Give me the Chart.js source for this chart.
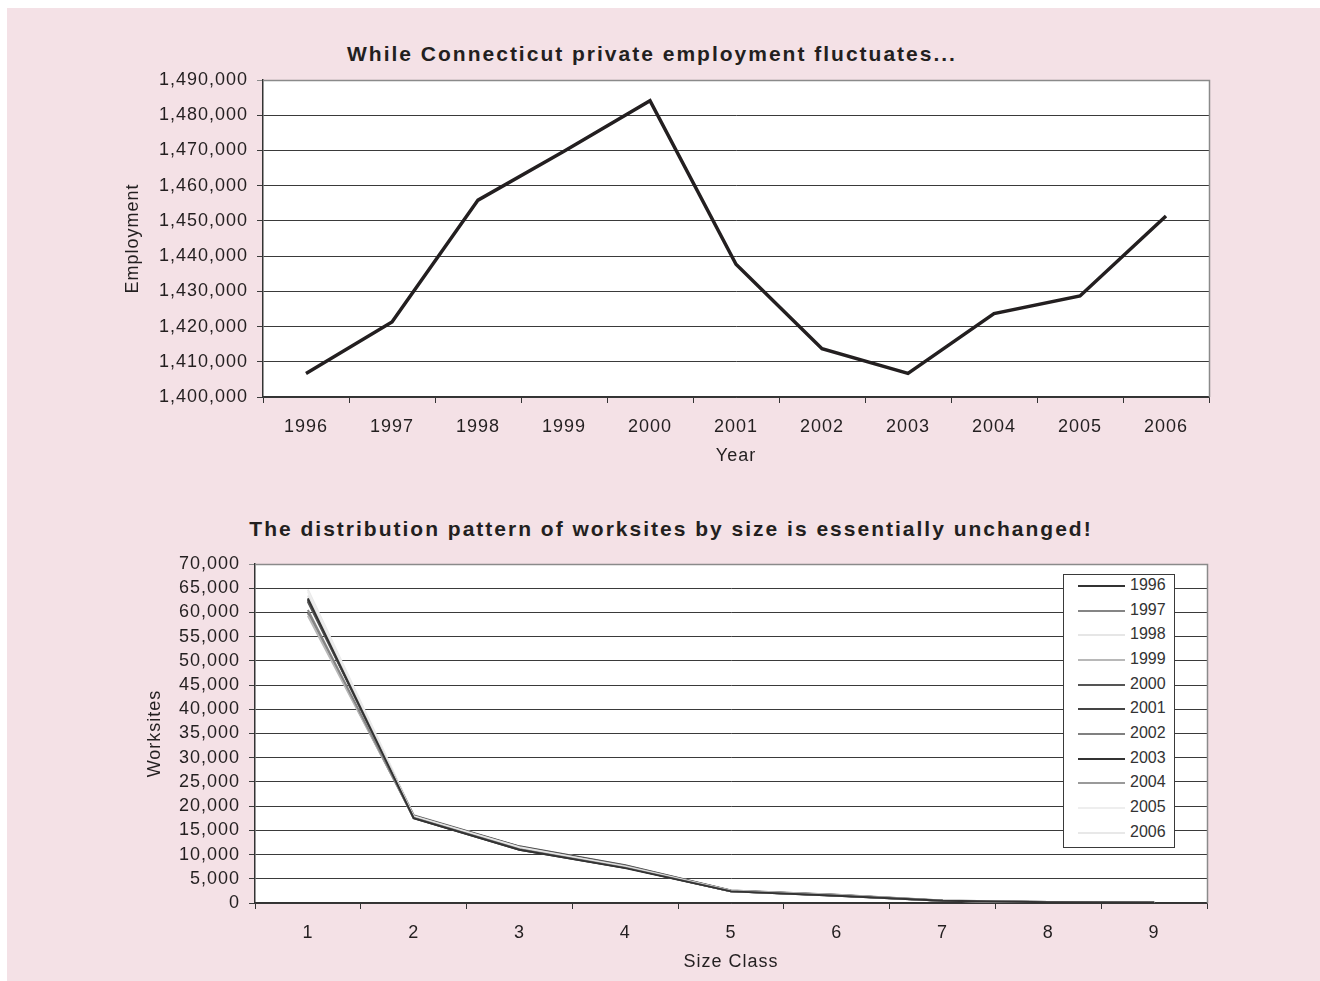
<!DOCTYPE html>
<html>
<head>
<meta charset="utf-8">
<script src="https://cdn.jsdelivr.net/npm/chart.js@4/dist/chart.umd.min.js"></script>
<style>
  html, body { margin: 0; padding: 0; background: #f4e1e6; }
  body { width: 1320px; height: 981px; position: relative; overflow: hidden; }
  .edge { position: absolute; background: #ffffff; }
  canvas { position: absolute; left: 0; }
  .ttl {
    position: absolute; white-space: nowrap; transform: translateX(-50%);
    font: bold 21px "Liberation Sans", Arial, sans-serif; line-height: 21px;
    letter-spacing: 2px; color: #231f20;
  }
  #legend {
    position: absolute; left: 1063px; top: 574px; width: 112px; height: 274px;
    box-sizing: border-box; border: 1px solid #3a3a3a; background: #ffffff;
  }
  .lg-row { position: absolute; left: 0; height: 20px; width: 110px; }
  .lg-swatch { position: absolute; left: 14px; top: 9px; width: 47px; height: 2px; }
  .lg-text {
    position: absolute; left: 66px; top: 0; line-height: 20px;
    font: 16px "Liberation Sans", Arial, sans-serif; color: #333333;
  }
</style>
</head>
<body>
<div class="edge" style="left:0; top:0; width:1320px; height:8px;"></div>
<div class="edge" style="left:0; top:0; width:7px; height:981px;"></div>
<div class="ttl" style="left:652px; top:43px;">While Connecticut private employment fluctuates...</div>
<div class="ttl" style="left:671px; top:518px;">The distribution pattern of worksites by size is essentially unchanged!</div>
<canvas id="empChart" width="1320" height="480" style="top:0px"></canvas>
<canvas id="siteChart" width="1320" height="501" style="top:480px"></canvas>
<div id="legend"></div>

<script>
// ---- Employment by year ----
const years = ['1996', '1997', '1998', '1999', '2000', '2001', '2002', '2003', '2004', '2005', '2006'];
const employment = [1406700, 1421300, 1455900, 1469800, 1484100, 1437700, 1413700, 1406700, 1423700, 1428700, 1451400];

// ---- Worksites by size class, one list per year ----
const sizeClasses = ['1', '2', '3', '4', '5', '6', '7', '8', '9'];
const sites1996 = [62900, 17500, 11000, 7200, 2400, 1500, 450, 170, 100];
const sites1997 = [60500, 17600, 11100, 7300, 2450, 1550, 460, 175, 105];
const sites1998 = [63500, 17900, 11500, 7500, 2500, 1600, 480, 180, 110];
const sites1999 = [59300, 17800, 11400, 7600, 2550, 1650, 490, 185, 110];
const sites2000 = [62200, 18100, 11700, 7800, 2600, 1700, 500, 190, 115];
const sites2001 = [62500, 17900, 11600, 7700, 2550, 1650, 490, 185, 110];
const sites2002 = [60000, 17600, 11200, 7400, 2450, 1550, 470, 175, 105];
const sites2003 = [62700, 17500, 11000, 7300, 2400, 1500, 450, 170, 100];
const sites2004 = [59800, 17600, 11100, 7400, 2450, 1550, 460, 175, 105];
const sites2005 = [64300, 17900, 11400, 7600, 2500, 1600, 480, 180, 110];
const sites2006 = [64700, 18200, 11700, 7800, 2600, 1650, 500, 190, 115];
const siteSeries = [sites1996, sites1997, sites1998, sites1999, sites2000, sites2001,
                    sites2002, sites2003, sites2004, sites2005, sites2006];
const siteColors = ['#333333', '#858585', '#e6e6e6', '#b8b8b8', '#555555', '#444444',
                    '#808080', '#333333', '#9a9a9a', '#eeeeee', '#e8e8e8'];

// ---- Tick ranges ----
const empTicks = { min: 1400000, max: 1490000, step: 10000 };
const siteTicks = { min: 0, max: 70000, step: 5000 };

const FONT = '"Liberation Sans", Arial, sans-serif';
const INK = '#231f20';
Chart.defaults.font.family = FONT;
Chart.defaults.color = INK;

const fmt = v => Number(v).toLocaleString('en-US');

// Canvas-wide letter spacing for axis text
const spacing = {
  id: 'spacing',
  beforeLayout(c) { c.ctx.letterSpacing = '1px'; },
  beforeDraw(c) { c.ctx.letterSpacing = '1px'; }
};

// White plot area with a grey frame on the top and right edges
const plotFrame = {
  id: 'plotFrame',
  beforeDraw(c) {
    const a = c.chartArea, ctx = c.ctx;
    ctx.save();
    ctx.fillStyle = '#ffffff';
    ctx.fillRect(a.left, a.top, a.right - a.left, a.bottom - a.top);
    ctx.restore();
  },
  afterDraw(c) {
    const a = c.chartArea, ctx = c.ctx;
    ctx.save();
    ctx.strokeStyle = '#8a8a8a';
    ctx.lineWidth = 1.5;
    ctx.beginPath();
    ctx.moveTo(a.left, Math.round(a.top) + 0.5);
    ctx.lineTo(Math.round(a.right) + 0.5, Math.round(a.top) + 0.5);
    ctx.lineTo(Math.round(a.right) + 0.5, a.bottom);
    ctx.stroke();
    ctx.restore();
  }
};

function axes(ticks, yWidth, xTitle, yTitle) {
  return {
    x: {
      type: 'category',
      offset: true,
      afterFit(s) { s.height = 70; },
      grid: { offset: true, drawOnChartArea: false, drawTicks: true, tickLength: 6, color: '#333333', lineWidth: 1 },
      border: { color: '#333333', width: 1.5 },
      ticks: { padding: 13, font: { size: 18 }, color: INK, maxRotation: 0, autoSkip: false },
      title: { display: true, text: xTitle, font: { size: 18 }, color: INK, padding: { top: 0, bottom: 0 } }
    },
    y: {
      min: ticks.min, max: ticks.max,
      afterFit(s) { s.width = yWidth; },
      grid: {
        tickLength: 6, lineWidth: 1,
        color: c => (c.tick && c.tick.value === ticks.max) ? '#8a8a8a' : '#3a3a3a'
      },
      border: { color: '#333333', width: 1.5 },
      ticks: { stepSize: ticks.step, autoSkip: false, padding: 9, font: { size: 18 }, color: INK, callback: v => fmt(v) },
      title: { display: true, text: yTitle, font: { size: 18 }, color: INK, padding: { top: 2, bottom: 0 } }
    }
  };
}

// ---- Employment line chart ----
new Chart(document.getElementById('empChart'), {
  type: 'line',
  data: {
    labels: years,
    datasets: [{
      label: 'Employment',
      data: employment,
      borderColor: '#231f20',
      borderWidth: 3.5,
      borderJoinStyle: 'miter',
      pointRadius: 0,
      tension: 0,
      fill: false
    }]
  },
  options: {
    responsive: false,
    animation: false,
    layout: { padding: { left: 120, right: 111, top: 80, bottom: 13 } },
    plugins: { legend: { display: false }, title: { display: false }, tooltip: { enabled: false } },
    scales: axes(empTicks, 143, 'Year', 'Employment')
  },
  plugins: [spacing, plotFrame]
});

// ---- Worksites by size class ----
new Chart(document.getElementById('siteChart'), {
  type: 'line',
  data: {
    labels: sizeClasses,
    datasets: years.map((yr, i) => ({
      label: yr,
      data: siteSeries[i],
      borderColor: siteColors[i],
      borderWidth: 2,
      pointRadius: 0,
      tension: 0,
      fill: false
    }))
  },
  options: {
    responsive: false,
    animation: false,
    layout: { padding: { left: 142, right: 113, top: 84, bottom: 8 } },
    plugins: { legend: { display: false }, title: { display: false }, tooltip: { enabled: false } },
    scales: axes(siteTicks, 113, 'Size Class', 'Worksites')
  },
  plugins: [spacing, plotFrame]
});

// ---- Legend for the year series ----
const legend = document.getElementById('legend');
years.forEach((yr, i) => {
  const row = document.createElement('div');
  row.className = 'lg-row';
  row.style.top = (1 + i * 24.67) + 'px';
  const sw = document.createElement('div');
  sw.className = 'lg-swatch';
  sw.style.background = siteColors[i];
  const tx = document.createElement('div');
  tx.className = 'lg-text';
  tx.textContent = yr;
  row.appendChild(sw);
  row.appendChild(tx);
  legend.appendChild(row);
});
</script>
</body>
</html>
